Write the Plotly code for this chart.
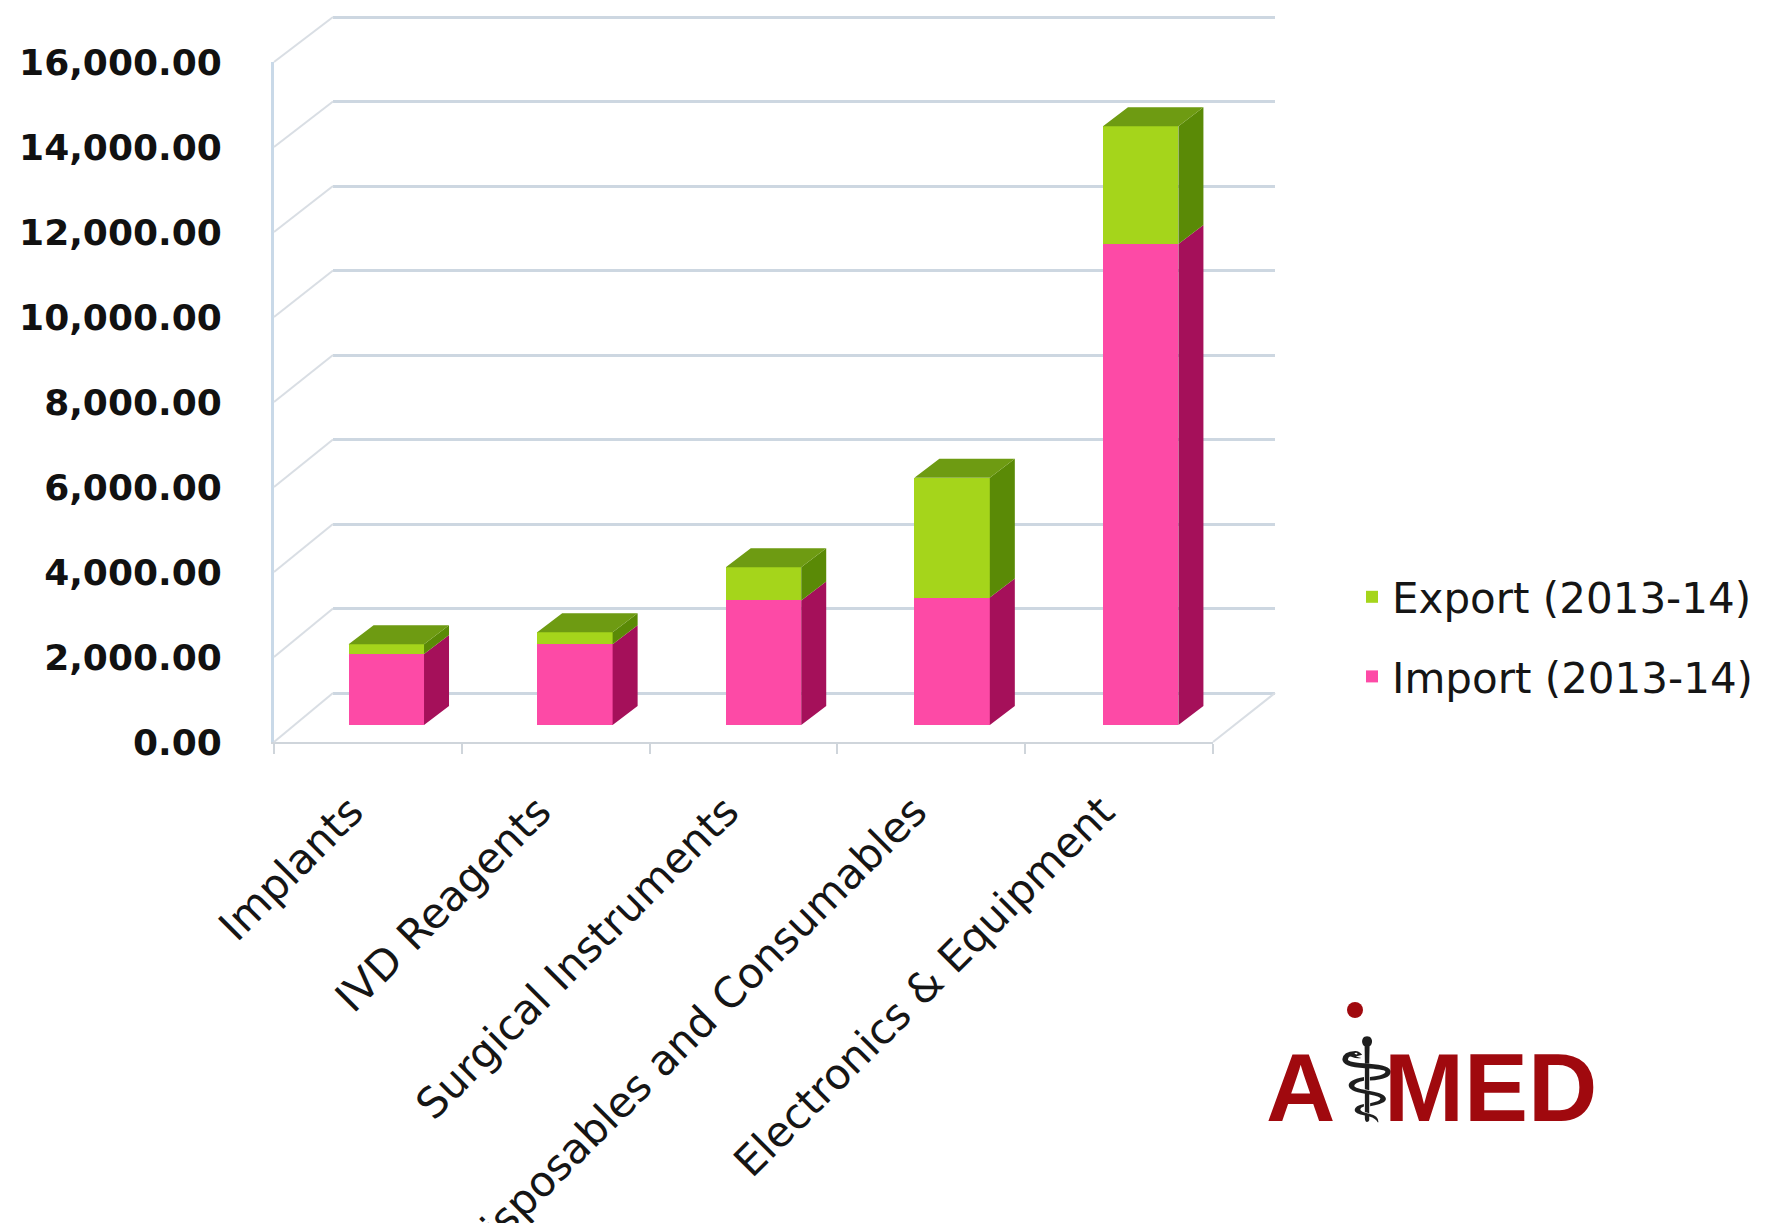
import plotly.graph_objects as go

# ---------------- data ----------------
categories = ["Implants", "IVD Reagents", "Surgical Instruments",
              "Disposables and Consumables", "Electronics & Equipment"]
import_values = [1670, 1900, 2930, 3000, 11320]
export_values = [230, 280, 780, 2820, 2770]
series_names = ["Import (2013-14)", "Export (2013-14)"]
y_tick_values = [0, 2000, 4000, 6000, 8000, 10000, 12000, 14000, 16000]

# ---------------- layout constants (pixels) ----------------
W, H = 1789, 1223
YMAX = 16000
FRONT_X = (274, 1213)   # front floor / y-axis frame
FRONT_Y = (742, 62)     # pixel y of 0 and YMAX
BACK_X = (333, 1275)    # back wall
BACK_Y = (693, 17)
BAR_X = (292, 1235)     # bars at mid depth
BAR_Y = (725, 45)
DEPTH_PX = (25, 19)     # 3-D depth of the columns
BAR_W = 0.4

IMP_FRONT, IMP_SIDE = "#fd4aa6", "#a5105a"
EXP_FRONT, EXP_SIDE, EXP_TOP = "#a5d51b", "#5a8a06", "#6e9b12"
GRID = "#cdd7e1"


def fx(p):
    return p / W


def fy(p):
    return 1 - p / H


n = len(categories)
idx = list(range(n))
xr = [-0.5, n - 0.5]
dx = DEPTH_PX[0] / ((BAR_X[1] - BAR_X[0]) / n)
dy = DEPTH_PX[1] / ((BAR_Y[0] - BAR_Y[1]) / YMAX)
totals = [a + b for a, b in zip(import_values, export_values)]

# back wall axis: extend a little beyond YMAX so the top gridline is drawn
BACK_EXT = 1.01
back_top_px = BACK_Y[0] - (BACK_Y[0] - BACK_Y[1]) * BACK_EXT


def side_faces(lo, hi):
    xs, ys = [], []
    for i, l, h in zip(idx, lo, hi):
        x0 = i + BAR_W / 2
        xs += [x0, x0 + dx, x0 + dx, x0, x0, None]
        ys += [l, l + dy, h + dy, h, l, None]
    return xs, ys


def top_faces(tops):
    xs, ys = [], []
    for i, t in zip(idx, tops):
        a, b = i - BAR_W / 2, i + BAR_W / 2
        xs += [a, a + dx, b + dx, b, a, None]
        ys += [t, t + dy, t + dy, t, t, None]
    return xs, ys


fig = go.Figure()

# invisible traces so the front frame and back wall subplots are drawn
fig.add_trace(go.Scatter(x=[None], y=[None], xaxis="x", yaxis="y",
                         showlegend=False, hoverinfo="skip"))
fig.add_trace(go.Scatter(x=[None], y=[None], xaxis="x2", yaxis="y2",
                         showlegend=False, hoverinfo="skip"))

fig.add_trace(go.Bar(x=idx, y=import_values, width=BAR_W, name=series_names[0],
                     marker=dict(color=IMP_FRONT, line=dict(width=0)),
                     legendgroup="imp", legendrank=2, xaxis="x3", yaxis="y3"))
fig.add_trace(go.Bar(x=idx, y=export_values, width=BAR_W, name=series_names[1],
                     marker=dict(color=EXP_FRONT, line=dict(width=0)),
                     legendgroup="exp", legendrank=1, xaxis="x3", yaxis="y3"))

sx, sy = side_faces([0] * n, import_values)
fig.add_trace(go.Scatter(x=sx, y=sy, mode="lines", fill="toself", fillcolor=IMP_SIDE,
                         line=dict(width=0, color=IMP_SIDE), showlegend=False,
                         hoverinfo="skip", xaxis="x3", yaxis="y3"))
sx, sy = side_faces(import_values, totals)
fig.add_trace(go.Scatter(x=sx, y=sy, mode="lines", fill="toself", fillcolor=EXP_SIDE,
                         line=dict(width=0, color=EXP_SIDE), showlegend=False,
                         hoverinfo="skip", xaxis="x3", yaxis="y3"))
tx, ty = top_faces(totals)
fig.add_trace(go.Scatter(x=tx, y=ty, mode="lines", fill="toself", fillcolor=EXP_TOP,
                         line=dict(width=0, color=EXP_TOP), showlegend=False,
                         hoverinfo="skip", xaxis="x3", yaxis="y3"))

# ---------------- side wall / floor decorations ----------------
shapes = []
for v in y_tick_values:
    y0 = FRONT_Y[0] - v * (FRONT_Y[0] - FRONT_Y[1]) / YMAX
    y1 = BACK_Y[0] - v * (BACK_Y[0] - BACK_Y[1]) / YMAX
    shapes.append(dict(type="line", xref="paper", yref="paper",
                       x0=fx(FRONT_X[0]), y0=fy(y0), x1=fx(BACK_X[0]), y1=fy(y1),
                       line=dict(color="#d9dee4", width=2)))
shapes.append(dict(type="line", xref="paper", yref="paper",
                   x0=fx(FRONT_X[1]), y0=fy(FRONT_Y[0]), x1=fx(BACK_X[1]), y1=fy(BACK_Y[0]),
                   line=dict(color="#d9dee4", width=2)))

# ---------------- logo ----------------
logo_red = "#a0090e"
shapes.append(dict(type="circle", xref="paper", yref="paper",
                   x0=fx(1347), x1=fx(1363), y0=fy(1002), y1=fy(1018),
                   fillcolor=logo_red, line=dict(width=0)))
annotations = [
    dict(text="A<span style='color:#1e1e1e;font-size:116px;font-family:DejaVu Sans;"
              "letter-spacing:-14px'>⚕</span>MED",
         x=fx(1431), y=fy(1080), xref="paper", yref="paper",
         xanchor="center", yanchor="middle", showarrow=False,
         font=dict(family="Liberation Sans", size=96, color=logo_red, weight="bold")),
]

fig.update_layout(
    template="none",
    width=W, height=H, autosize=False,
    margin=dict(l=0, r=0, t=0, b=0, pad=0),
    paper_bgcolor="white", plot_bgcolor="rgba(0,0,0,0)",
    barmode="stack", bargap=0,
    shapes=shapes, annotations=annotations,
    legend=dict(x=fx(1352), y=fy(563), xanchor="left", yanchor="top",
                font=dict(family="DejaVu Sans", size=42, color="#151515"),
                traceorder="grouped", tracegroupgap=22,
                bgcolor="rgba(0,0,0,0)", borderwidth=0),
    # front frame: y labels, x labels
    xaxis=dict(domain=[fx(FRONT_X[0]), fx(FRONT_X[1])], range=xr, type="linear",
               tickmode="array", tickvals=idx, ticktext=categories, tickangle=-45,
               ticks="", showgrid=False, zeroline=False, showline=True,
               linecolor="#cfd5db", linewidth=2, ticklabelstandoff=26,
               ticklabelshift=-17,
               tickfont=dict(family="DejaVu Sans", size=42, color="#151515"),
               minor=dict(tickmode="array", tickvals=[k - 0.5 for k in range(n + 1)],
                          ticks="outside", ticklen=10, tickwidth=2, tickcolor="#cfd5db",
                          showgrid=False),
               anchor="y", fixedrange=True, automargin=False),
    yaxis=dict(domain=[fy(FRONT_Y[0]), fy(FRONT_Y[1])], range=[0, YMAX],
               tickmode="array", tickvals=y_tick_values, tickformat=",.2f",
               ticks="", showgrid=False, zeroline=False, showline=True,
               linecolor="#c9d9e8", linewidth=3, ticklabelstandoff=42,
               tickfont=dict(family="DejaVu Sans", size=36, color="#111111", weight="bold"),
               anchor="x", fixedrange=True, automargin=False),
    # back wall: gridlines only
    xaxis2=dict(domain=[fx(BACK_X[0]), fx(BACK_X[1])], range=xr, visible=False,
                anchor="y2", fixedrange=True, automargin=False),
    yaxis2=dict(domain=[fy(BACK_Y[0]), fy(back_top_px)], range=[0, YMAX * BACK_EXT],
                tickmode="array", tickvals=y_tick_values, showticklabels=False,
                ticks="", showgrid=True, gridcolor=GRID, gridwidth=3,
                zeroline=True, zerolinecolor=GRID, zerolinewidth=3,
                showline=False, anchor="x2", fixedrange=True, automargin=False),
    # bars at mid depth
    xaxis3=dict(domain=[fx(BAR_X[0]), fx(BAR_X[1])], range=xr, visible=False,
                anchor="y3", fixedrange=True, automargin=False),
    yaxis3=dict(domain=[fy(BAR_Y[0]), fy(BAR_Y[1])], range=[0, YMAX], visible=False,
                anchor="x3", fixedrange=True, automargin=False),
)

fig.write_html("out.html")
